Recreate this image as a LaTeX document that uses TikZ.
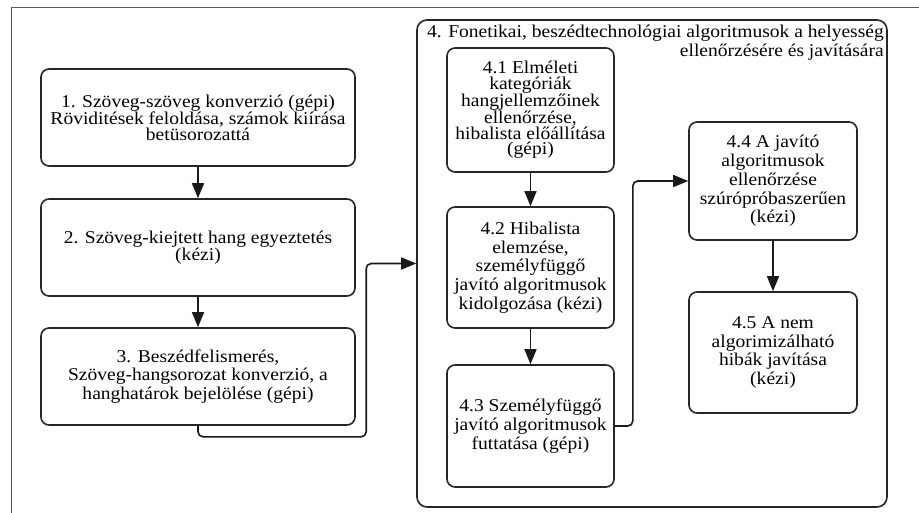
\documentclass[tikz,border=0pt]{standalone}
\usepackage{fontspec}
\setmainfont{Liberation Serif}
\newfontfamily\boxfont[FakeStretch=1.085]{Liberation Serif}
\usetikzlibrary{arrows.meta,calc}
\begin{document}
\begin{tikzpicture}[x=1pt,y=-1pt,
  stepbox/.style={draw=black!85, line width=1.6pt, rounded corners=8pt,
    align=center, inner sep=1pt, text=black,
    font=\boxfont\fontsize{18}{18.7}\selectfont},
  tight/.style={font=\boxfont\fontsize{18}{15.5}\selectfont},
  mid/.style={font=\boxfont\fontsize{18}{16.5}\selectfont},
  arr/.style={line width=1.6pt, draw=black!90,
    -{Triangle[length=15pt,width=12pt]}},
  link/.style={arr, rounded corners=5pt},
  frame/.style={draw=black!65, line width=1pt}]
\useasboundingbox (0,0) rectangle (919,513);
\fill[white] (0,0) rectangle (919,513);
% cropped page frame
\coordinate (ftl) at (11,8);
\draw[frame] (11,513) -- (ftl) -- (919,8);

% left column
\node[stepbox, tight, minimum width=314pt, minimum height=97pt] (b1) at (198,117.5)
  {1. Szöveg-szöveg konverzió (gépi)\\Röviditések feloldása, számok kiírása\\betüsorozattá};
\node[stepbox, mid, minimum width=314pt, minimum height=97pt] (b2) at (198,247.5)
  {2. Szöveg-kiejtett hang egyeztetés\\(kézi)};
\node[stepbox, minimum width=314pt, minimum height=97pt] (b3) at (198,376.5)
  {3. Beszédfelismerés,\\Szöveg-hangsorozat konverzió, a\\hanghatárok bejelölése (gépi)};

% container for step 4
\node[draw=black!85, line width=1.6pt, rounded corners=10pt,
  minimum width=470pt, minimum height=487pt] (b4) at (652,263.5) {};
\node[anchor=north east, align=right, inner sep=0pt, text=black,
  font=\boxfont\fontsize{18}{18.5}\selectfont] (t4) at (884,25)
  {4. Fonetikai, beszédtechnológiai algoritmusok a helyesség\\ellenőrzésére és javítására};

\node[stepbox, tight, minimum width=167pt, minimum height=124pt] (b41) at (530.5,110)
  {4.1 Elméleti\\kategóriák\\hangjellemzőinek\\ellenőrzése,\\hibalista előállítása\\(gépi)};
\node[stepbox, minimum width=167pt, minimum height=121pt] (b42) at (530.5,267.5)
  {4.2 Hibalista\\elemzése,\\személyfüggő\\javító algoritmusok\\kidolgozása (kézi)};
\node[stepbox, minimum width=167pt, minimum height=122pt] (b43) at (530.5,426)
  {4.3 Személyfüggő\\javító algoritmusok\\futtatása (gépi)};
\node[stepbox, minimum width=168pt, minimum height=118pt] (b44) at (773,181)
  {4.4 A javító\\algoritmusok\\ellenőrzése\\szúrópróbaszerűen\\(kézi)};
\node[stepbox, minimum width=168pt, minimum height=121pt] (b45) at (773,352.5)
  {4.5 A nem\\algorimizálható\\hibák javítása\\(kézi)};

% connectors
\draw[arr] (b1) -- (b2);
\draw[arr] (b2) -- (b3);
\draw[link] (b3.south) -- ++(0,11) -| ($(b4.west)+(-50,0)$) -- (b4.west);
\draw[arr] (b41) -- (b42);
\draw[arr] (b42) -- (b43);
\draw[link] (b43.east) -- ++(18,0) |- (b44.west);
\draw[arr] (b44) -- (b45);
\end{tikzpicture}
\end{document}
